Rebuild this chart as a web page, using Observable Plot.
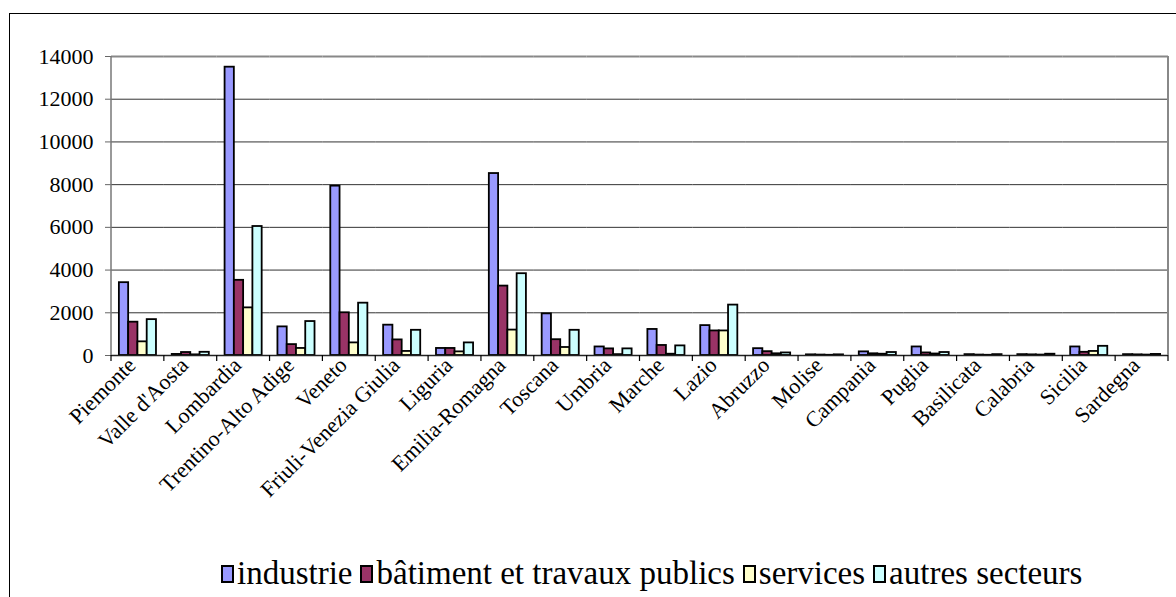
<!DOCTYPE html>
<html><head><meta charset="utf-8">
<script src="https://cdn.jsdelivr.net/npm/d3@7"></script>
<script src="https://cdn.jsdelivr.net/npm/@observablehq/plot@0.6"></script>
<style>
html,body{margin:0;padding:0;background:#fff;}
#wrap{position:relative;width:1176px;height:597px;overflow:hidden;}
#frame{position:absolute;left:9px;top:13px;width:1300px;height:700px;border:1px solid #000;box-sizing:border-box;}
#chart{position:absolute;left:0;top:0;width:1176px;}
#chart svg{font-family:"Liberation Serif","Times New Roman",Times,"DejaVu Serif",serif !important;}
#legend{position:absolute;left:221px;top:555px;display:flex;align-items:center;font-family:"Liberation Serif","Times New Roman",Times,"DejaVu Serif",serif;font-size:33px;color:#000;white-space:nowrap;}
.item{display:flex;align-items:center;margin-right:8px}
.sw{display:inline-block;width:9px;height:14px;border:2px solid #000;margin-right:3px}
</style></head><body>
<div id="wrap"><div id="frame"></div><div id="chart"></div><div id="legend"></div></div>
<script>
const regions = ["Piemonte","Valle d'Aosta","Lombardia","Trentino-Alto Adige","Veneto","Friuli-Venezia Giulia","Liguria","Emilia-Romagna","Toscana","Umbria","Marche","Lazio","Abruzzo","Molise","Campania","Puglia","Basilicata","Calabria","Sicilia","Sardegna"];
const sectors = ["industrie","bâtiment et travaux publics","services","autres secteurs"];
const industrie = [3410, 50, 13500, 1340, 7930, 1420, 330, 8520, 1950, 400, 1220, 1400, 320, 30, 170, 400, 40, 40, 400, 40];
const batiment  = [1560, 140, 3520, 510, 2000, 730, 330, 3250, 740, 310, 470, 1150, 180, 20, 80, 120, 20, 30, 150, 30];
const services  = [640, 30, 2230, 330, 590, 190, 170, 1190, 375, 40, 60, 1150, 80, 10, 60, 70, 10, 20, 190, 20];
const autres    = [1680, 150, 6040, 1590, 2450, 1180, 590, 3830, 1180, 310, 450, 2360, 120, 30, 140, 140, 40, 60, 430, 50];
const colors = ["#9999FF","#993366","#FFFFCC","#CCFFFF"];
const yTicks = [0,2000,4000,6000,8000,10000,12000,14000];

const series = [industrie, batiment, services, autres];
const data = regions.flatMap((r,i)=>series.map((s,j)=>({region:r, sector:sectors[j], value:s[i]})));

const extras = Plot.frame({
  facet: "super",
  render(index, scales, values, dims) {
    const g = d3.create("svg:g").attr("fill","none");
    const top = dims.marginTop, bottom = dims.height - dims.marginBottom;
    const left = dims.marginLeft, right = dims.width - dims.marginRight;
    let edges = null;
    const fx = scales.fx;
    if (fx && typeof fx.bandwidth === "function") {
      edges = regions.map(r=>fx(r));
      edges.push(fx(regions[regions.length-1]) + fx.bandwidth());
      if (edges.some(e=>!isFinite(e)) || Math.abs(edges[0]-left)>2) edges = null;
    }
    if (!edges) {
      const step = (right-left)/regions.length;
      edges = d3.range(regions.length+1).map(i=>left+i*step);
    }
    g.append("path").attr("stroke","#000").attr("stroke-width",1.2)
      .attr("d", edges.map(x=>`M${x},${bottom}v6`).join(""));
    g.append("line").attr("x1",left).attr("x2",left).attr("y1",top).attr("y2",bottom)
      .attr("stroke","#777").attr("stroke-width",1.5);
    g.append("line").attr("x1",right).attr("x2",right).attr("y1",top).attr("y2",bottom)
      .attr("stroke","#888").attr("stroke-width",2);
    return g.node();
  }
});

const H = 545;
const chart = Plot.plot({
  width: 1176, height: H,
  marginLeft: 111, marginRight: 8, marginTop: 56, marginBottom: H - 355,
  facet: {margin: 0},
  style: {fontFamily: "'Liberation Serif', 'Times New Roman', serif", fontSize: "22px", color: "#000", background: "transparent", overflow: "visible"},
  fx: {domain: regions, padding: 0, round: false, axis: null, label: null},
  x: {domain: sectors, paddingInner: 0, paddingOuter: 0.85, round: false, axis: null},
  y: {domain: [0, 14000], axis: null},
  color: {domain: sectors, range: colors},
  marks: [
    Plot.ruleY(yTicks.filter(t => t > 0 && t < 14000), {stroke: "#333", strokeWidth: 1}),
    Plot.ruleY([14000], {stroke: "#888", strokeWidth: 2}),
    Plot.barY(data, {fx: "region", x: "sector", y: "value", fill: "sector", stroke: "#000", strokeWidth: 1.8}),
    Plot.ruleY([0], {stroke: "#222", strokeWidth: 1.5}),
    Plot.axisY({ticks: yTicks, tickSize: 6, tickPadding: 12, tickFormat: d => String(d), fontSize: 22, label: null, stroke: "#666"}),
    Plot.axisFx({anchor: "bottom", tickRotate: -45, tickSize: 0, tickPadding: 6, dx: -6, label: null, fontSize: 22}),
    extras
  ]
});
document.getElementById("chart").appendChild(chart);

const legend = d3.select("#legend");
sectors.forEach((s, j) => {
  const it = legend.append("span").attr("class", "item");
  it.append("span").attr("class", "sw").style("background", colors[j]);
  it.append("span").text(s);
});
</script>
</body></html>
